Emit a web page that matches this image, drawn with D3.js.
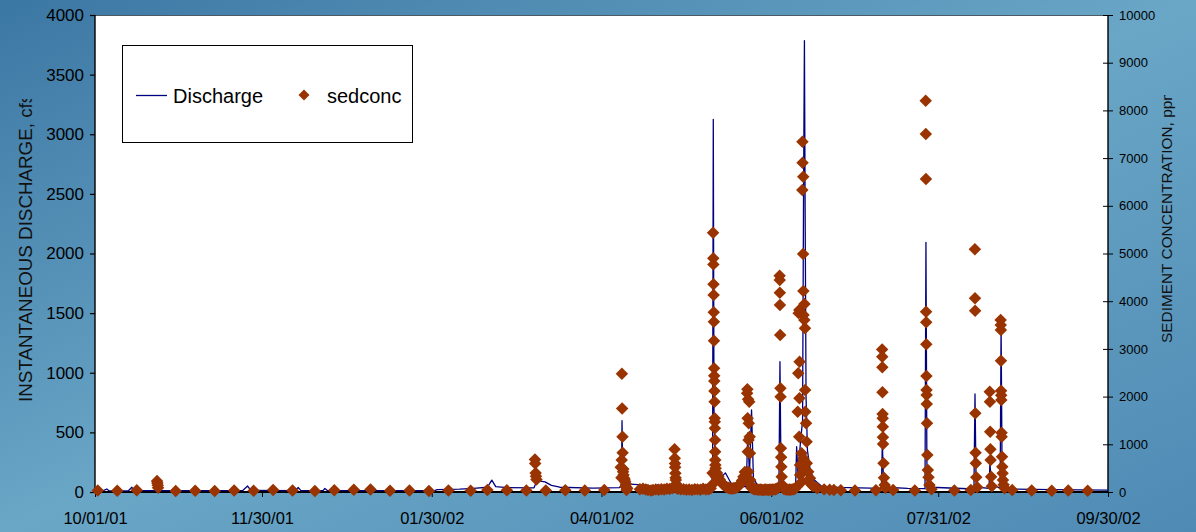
<!DOCTYPE html>
<html>
<head>
<meta charset="utf-8">
<script src="https://cdn.jsdelivr.net/npm/d3@7/dist/d3.min.js"></script>
<style>
  html, body { margin: 0; padding: 0; background: #5f9cc2; }
  svg { display: block; font-family: "Liberation Sans", Arial, sans-serif; }
</style>
</head>
<body>
<svg id="chart" width="1196" height="532"></svg>
<script>
// ---- Water year 2002: instantaneous discharge (cfs) and suspended-sediment samples (ppm)

const dateTicks = ["2001-10-01", "2001-11-30", "2002-01-30", "2002-04-01", "2002-06-01", "2002-07-31", "2002-09-30"];
const dateTickLabels = ["10/01/01", "11/30/01", "01/30/02", "04/01/02", "06/01/02", "07/31/02", "09/30/02"];
const dischargeTicks = [0, 500, 1000, 1500, 2000, 2500, 3000, 3500, 4000];
const sedTicks = [0, 1000, 2000, 3000, 4000, 5000, 6000, 7000, 8000, 9000, 10000];

// Discharge hydrograph, [time, cfs]
const discharge = [
  ["2001-10-01 00:00", 10], ["2001-10-04 00:00", 11], ["2001-10-05 06:00", 25], ["2001-10-06 00:00", 11],
  ["2001-10-13 00:00", 10], ["2001-10-14 06:00", 40], ["2001-10-15 00:00", 12],
  ["2001-11-23 00:00", 11], ["2001-11-24 20:00", 50], ["2001-11-26 00:00", 13],
  ["2001-12-12 00:00", 11], ["2001-12-13 00:00", 38], ["2001-12-14 00:00", 12],
  ["2001-12-22 00:00", 11], ["2001-12-22 14:00", 30], ["2001-12-23 12:00", 12],
  ["2002-01-31 00:00", 12], ["2002-02-01 00:00", 20], ["2002-02-09 00:00", 24], ["2002-02-14 00:00", 30],
  ["2002-02-19 00:00", 40], ["2002-02-20 14:00", 100], ["2002-02-22 00:00", 45], ["2002-02-26 00:00", 36],
  ["2002-03-07 18:00", 35], ["2002-03-08 19:00", 95], ["2002-03-11 17:00", 85], ["2002-03-14 00:00", 55],
  ["2002-03-17 00:00", 40], ["2002-03-29 00:00", 33], ["2002-04-07 12:00", 36], ["2002-04-08 04:00", 60],
  ["2002-04-08 09:00", 598], ["2002-04-08 14:00", 200], ["2002-04-09 00:00", 100], ["2002-04-10 00:00", 68],
  ["2002-04-14 00:00", 62], ["2002-04-16 00:00", 50], ["2002-04-20 18:00", 52], ["2002-04-21 10:00", 62],
  ["2002-04-22 00:00", 46], ["2002-04-30 00:00", 48], ["2002-05-10 12:00", 45], ["2002-05-10 22:00", 150],
  ["2002-05-11 04:00", 3125], ["2002-05-11 10:00", 700], ["2002-05-11 20:00", 220], ["2002-05-12 22:00", 128],
  ["2002-05-14 12:00", 135], ["2002-05-15 12:00", 160], ["2002-05-16 06:00", 130], ["2002-05-17 12:00", 75],
  ["2002-05-20 18:00", 45], ["2002-05-23 00:00", 45], ["2002-05-23 14:00", 495], ["2002-05-24 04:00", 140],
  ["2002-05-24 22:00", 688], ["2002-05-25 14:00", 120], ["2002-05-26 22:00", 60], ["2002-05-29 00:00", 45],
  ["2002-06-03 18:00", 45], ["2002-06-04 03:00", 1093], ["2002-06-04 12:00", 160], ["2002-06-05 00:00", 70],
  ["2002-06-06 12:00", 50], ["2002-06-09 18:00", 50], ["2002-06-10 03:00", 380], ["2002-06-10 14:00", 150],
  ["2002-06-11 12:00", 420], ["2002-06-12 06:00", 600], ["2002-06-12 14:00", 2400], ["2002-06-12 22:00", 3785],
  ["2002-06-13 04:00", 2390], ["2002-06-13 12:00", 800], ["2002-06-14 00:00", 350], ["2002-06-15 00:00", 180],
  ["2002-06-16 12:00", 100], ["2002-06-19 00:00", 50], ["2002-06-25 00:00", 38], ["2002-07-10 14:00", 30],
  ["2002-07-10 22:00", 420], ["2002-07-11 08:00", 80], ["2002-07-12 00:00", 40], ["2002-07-20 00:00", 30],
  ["2002-07-26 06:00", 28], ["2002-07-26 14:00", 2094], ["2002-07-26 22:00", 250], ["2002-07-27 08:00", 80],
  ["2002-07-28 12:00", 40], ["2002-08-12 20:00", 25], ["2002-08-13 05:00", 822], ["2002-08-13 14:00", 110],
  ["2002-08-14 12:00", 40], ["2002-08-18 06:00", 30], ["2002-08-18 14:00", 250], ["2002-08-19 00:00", 60],
  ["2002-08-22 06:00", 35], ["2002-08-22 14:00", 1400], ["2002-08-22 22:00", 250], ["2002-08-23 08:00", 100],
  ["2002-08-24 12:00", 45], ["2002-08-27 00:00", 25], ["2002-09-10 00:00", 20], ["2002-09-30 00:00", 15]
];

// Sediment samples, [time, ppm]
const sedFallWinter = [
  ["2001-10-02 00:00", 30], ["2001-10-09 00:00", 25], ["2001-10-16 00:00", 35],
  ["2001-10-23 07:00", 230], ["2001-10-23 10:00", 190], ["2001-10-23 13:00", 140], ["2001-10-23 16:00", 90],
  ["2001-10-30 00:00", 20], ["2001-11-06 00:00", 25], ["2001-11-13 00:00", 20], ["2001-11-20 00:00", 30],
  ["2001-11-27 00:00", 25], ["2001-12-04 00:00", 40], ["2001-12-11 00:00", 30], ["2001-12-19 00:00", 20],
  ["2001-12-26 00:00", 35], ["2002-01-02 00:00", 45], ["2002-01-08 00:00", 50], ["2002-01-15 00:00", 25],
  ["2002-01-22 00:00", 30], ["2002-01-29 00:00", 20], ["2002-02-05 00:00", 30], ["2002-02-13 00:00", 25],
  ["2002-02-19 00:00", 40], ["2002-02-26 00:00", 35], ["2002-03-05 00:00", 30],
  ["2002-03-08 02:00", 680], ["2002-03-08 04:00", 600], ["2002-03-08 08:00", 400], ["2002-03-08 11:00", 330],
  ["2002-03-08 15:00", 260], ["2002-03-12 00:00", 30], ["2002-03-19 00:00", 35], ["2002-03-26 00:00", 30],
  ["2002-04-02 00:00", 40]
];

const sedApril = [
  ["2002-04-07 22:00", 517], ["2002-04-08 04:00", 300], ["2002-04-08 06:00", 670], ["2002-04-08 08:00", 2480],
  ["2002-04-08 10:00", 1750], ["2002-04-08 13:00", 1160], ["2002-04-08 14:00", 824], ["2002-04-08 18:00", 426],
  ["2002-04-08 20:00", 480], ["2002-04-08 22:00", 356], ["2002-04-09 04:00", 287], ["2002-04-09 08:00", 250],
  ["2002-04-09 12:00", 216], ["2002-04-09 16:00", 111], ["2002-04-09 20:00", 160], ["2002-04-10 00:00", 42],
  ["2002-04-10 06:00", 80], ["2002-04-14 19:00", 60], ["2002-04-15 22:00", 70], ["2002-04-16 22:00", 50],
  ["2002-04-17 17:00", 40], ["2002-04-18 19:00", 30], ["2002-04-19 12:00", 40], ["2002-04-20 12:00", 55],
  ["2002-04-21 12:00", 45], ["2002-04-22 12:00", 60], ["2002-04-23 12:00", 50], ["2002-04-24 12:00", 70],
  ["2002-04-25 12:00", 65], ["2002-04-26 12:00", 80],
  ["2002-04-27 06:00", 895], ["2002-04-27 08:00", 706], ["2002-04-27 10:00", 600], ["2002-04-27 11:00", 517],
  ["2002-04-27 13:00", 391], ["2002-04-27 15:00", 300], ["2002-04-27 17:00", 251], ["2002-04-27 20:00", 168],
  ["2002-04-28 00:00", 78], ["2002-04-28 12:00", 70], ["2002-04-29 12:00", 55], ["2002-04-30 12:00", 60],
  ["2002-05-01 12:00", 45], ["2002-05-02 12:00", 50], ["2002-05-03 12:00", 40], ["2002-05-04 12:00", 60],
  ["2002-05-05 12:00", 55], ["2002-05-06 12:00", 45], ["2002-05-07 12:00", 70], ["2002-05-08 12:00", 50],
  ["2002-05-09 12:00", 60], ["2002-05-10 06:00", 80]
];

const sedMay = [
  ["2002-05-10 18:00", 150], ["2002-05-10 22:00", 400],
  ["2002-05-11 02:00", 5435], ["2002-05-11 04:00", 4898], ["2002-05-11 05:00", 4772], ["2002-05-11 06:00", 4353],
  ["2002-05-11 07:00", 4129], ["2002-05-11 08:00", 3766], ["2002-05-11 09:00", 3570], ["2002-05-11 10:00", 3172],
  ["2002-05-11 11:00", 2593], ["2002-05-11 12:00", 2438], ["2002-05-11 13:00", 2327], ["2002-05-11 14:00", 2117],
  ["2002-05-11 15:00", 1893], ["2002-05-11 16:00", 1545], ["2002-05-11 17:00", 1474], ["2002-05-11 18:00", 1335],
  ["2002-05-11 19:00", 1090], ["2002-05-11 20:00", 845], ["2002-05-11 21:00", 671], ["2002-05-11 22:00", 566],
  ["2002-05-12 00:00", 500], ["2002-05-12 03:00", 321], ["2002-05-12 12:00", 400], ["2002-05-13 00:00", 330],
  ["2002-05-13 12:00", 260], ["2002-05-14 00:00", 210], ["2002-05-14 12:00", 170], ["2002-05-15 00:00", 140],
  ["2002-05-15 12:00", 115], ["2002-05-16 00:00", 100], ["2002-05-16 12:00", 90], ["2002-05-17 00:00", 80],
  ["2002-05-17 12:00", 75], ["2002-05-18 00:00", 75], ["2002-05-18 12:00", 80], ["2002-05-19 00:00", 85],
  ["2002-05-19 12:00", 95], ["2002-05-20 00:00", 110], ["2002-05-20 12:00", 140], ["2002-05-21 00:00", 180],
  ["2002-05-21 12:00", 240], ["2002-05-22 00:00", 320], ["2002-05-22 12:00", 420],
  ["2002-05-23 08:00", 2069], ["2002-05-23 10:00", 2153], ["2002-05-23 12:00", 1545], ["2002-05-23 14:00", 845],
  ["2002-05-23 16:00", 1943], ["2002-05-23 18:00", 426], ["2002-05-23 20:00", 1090], ["2002-05-23 22:00", 1440],
  ["2002-05-24 02:00", 1893], ["2002-05-24 06:00", 1160], ["2002-05-24 08:00", 810], ["2002-05-24 10:00", 251],
  ["2002-05-24 14:00", 150], ["2002-05-24 20:00", 90],
  ["2002-05-25 12:00", 70], ["2002-05-26 00:00", 60], ["2002-05-26 12:00", 55], ["2002-05-27 00:00", 50],
  ["2002-05-27 12:00", 45], ["2002-05-28 00:00", 50], ["2002-05-28 12:00", 45], ["2002-05-29 00:00", 40],
  ["2002-05-29 12:00", 45], ["2002-05-30 00:00", 50], ["2002-05-30 12:00", 45], ["2002-05-31 00:00", 40],
  ["2002-05-31 12:00", 50], ["2002-06-01 00:00", 45], ["2002-06-01 12:00", 55], ["2002-06-02 00:00", 50],
  ["2002-06-02 12:00", 60], ["2002-06-03 00:00", 70], ["2002-06-03 12:00", 90]
];

const sedJune = [
  ["2002-06-04 00:00", 4534], ["2002-06-04 01:00", 4444], ["2002-06-04 02:00", 4178], ["2002-06-04 03:00", 3920],
  ["2002-06-04 05:00", 3291], ["2002-06-04 07:00", 2174], ["2002-06-04 08:00", 1998], ["2002-06-04 11:00", 916],
  ["2002-06-04 13:00", 727], ["2002-06-04 15:00", 530], ["2002-06-04 18:00", 321], ["2002-06-04 22:00", 150],
  ["2002-06-05 00:00", 100], ["2002-06-05 12:00", 70], ["2002-06-06 00:00", 55], ["2002-06-06 12:00", 50],
  ["2002-06-07 00:00", 45], ["2002-06-07 12:00", 50], ["2002-06-08 00:00", 45], ["2002-06-08 12:00", 55],
  ["2002-06-09 00:00", 60], ["2002-06-09 12:00", 70], ["2002-06-10 00:00", 100],
  ["2002-06-10 12:00", 1683], ["2002-06-10 17:00", 2488], ["2002-06-10 20:00", 3750], ["2002-06-11 01:00", 1159],
  ["2002-06-11 02:00", 3815], ["2002-06-11 03:00", 1964], ["2002-06-11 04:00", 2731], ["2002-06-11 08:00", 566],
  ["2002-06-11 09:00", 356], ["2002-06-11 22:00", 811], ["2002-06-11 23:00", 216], ["2002-06-12 04:00", 6330],
  ["2002-06-12 05:00", 7342], ["2002-06-12 06:00", 6902], ["2002-06-12 11:00", 4988], ["2002-06-12 12:00", 6609],
  ["2002-06-12 12:30", 706], ["2002-06-12 13:00", 4213], ["2002-06-12 14:00", 3710], ["2002-06-12 15:00", 461],
  ["2002-06-12 21:00", 3605], ["2002-06-12 22:00", 3940], ["2002-06-13 03:00", 3431], ["2002-06-13 04:00", 2138],
  ["2002-06-13 05:00", 1683], ["2002-06-13 12:00", 1440], ["2002-06-13 17:00", 1054], ["2002-06-13 18:00", 601],
  ["2002-06-14 07:00", 426], ["2002-06-14 22:00", 287], ["2002-06-15 02:00", 182], ["2002-06-15 12:00", 150],
  ["2002-06-16 00:00", 120], ["2002-06-17 12:00", 80], ["2002-06-20 00:00", 55], ["2002-06-22 00:00", 45],
  ["2002-06-23 12:00", 40], ["2002-06-26 00:00", 35], ["2002-07-01 02:00", 30]
];

const sedSummer = [
  ["2002-07-08 14:00", 35],
  ["2002-07-10 20:00", 2990], ["2002-07-10 21:00", 2837], ["2002-07-10 22:00", 2614], ["2002-07-10 23:00", 2090],
  ["2002-07-11 00:00", 1635], ["2002-07-11 01:00", 1545], ["2002-07-11 02:00", 1369], ["2002-07-11 03:00", 1147],
  ["2002-07-11 04:00", 1006], ["2002-07-11 08:00", 601], ["2002-07-11 12:00", 300], ["2002-07-11 18:00", 147],
  ["2002-07-12 00:00", 90], ["2002-07-14 19:00", 40], ["2002-07-22 14:00", 30],
  ["2002-07-26 12:00", 8203], ["2002-07-26 13:00", 7505], ["2002-07-26 14:00", 6562], ["2002-07-26 15:00", 3780],
  ["2002-07-26 16:00", 3557], ["2002-07-26 17:00", 3096], ["2002-07-26 18:00", 2432], ["2002-07-26 19:00", 2138],
  ["2002-07-26 20:00", 2033], ["2002-07-26 21:00", 1845], ["2002-07-26 23:00", 1440], ["2002-07-27 02:00", 776],
  ["2002-07-27 06:00", 461], ["2002-07-27 12:00", 308], ["2002-07-27 20:00", 147], ["2002-07-28 14:00", 60],
  ["2002-08-05 19:00", 30], ["2002-08-11 17:00", 40],
  ["2002-08-13 04:00", 5087], ["2002-08-13 05:00", 4060], ["2002-08-13 06:00", 3800], ["2002-08-13 08:00", 1650],
  ["2002-08-13 10:00", 824], ["2002-08-13 12:00", 601], ["2002-08-13 16:00", 308], ["2002-08-14 00:00", 100],
  ["2002-08-18 12:00", 2103], ["2002-08-18 14:00", 1894], ["2002-08-18 16:00", 1264], ["2002-08-18 18:00", 895],
  ["2002-08-18 20:00", 671], ["2002-08-19 00:00", 321], ["2002-08-19 06:00", 120],
  ["2002-08-22 10:00", 3605], ["2002-08-22 11:00", 3500], ["2002-08-22 12:00", 3396], ["2002-08-22 13:00", 2752],
  ["2002-08-22 14:00", 2124], ["2002-08-22 15:00", 2030], ["2002-08-22 16:00", 1928], ["2002-08-22 18:00", 1243],
  ["2002-08-22 19:00", 1159], ["2002-08-22 22:00", 740], ["2002-08-23 00:00", 530], ["2002-08-23 03:00", 391],
  ["2002-08-23 06:00", 251], ["2002-08-23 12:00", 150], ["2002-08-23 20:00", 80],
  ["2002-08-26 14:00", 40], ["2002-09-02 14:00", 30], ["2002-09-09 19:00", 25], ["2002-09-15 17:00", 30],
  ["2002-09-22 17:00", 25]
];

// ---- Layout
const svg = d3.select("#chart");
const W = 1196, H = 532;
const plot = { left: 95, right: 1108, top: 15, bottom: 492 };
const parseTime = d3.timeParse("%Y-%m-%d %H:%M");
const parseDay = d3.timeParse("%Y-%m-%d");

const x = d3.scaleTime()
  .domain([parseDay(dateTicks[0]), parseDay(dateTicks[dateTicks.length - 1])])
  .range([plot.left, plot.right]);
const yQ = d3.scaleLinear().domain([0, 4000]).range([plot.bottom, plot.top]);
const yS = d3.scaleLinear().domain([0, 10000]).range([plot.bottom, plot.top]);

// Background
const defs = svg.append("defs");
const bg = defs.append("linearGradient").attr("id", "bgGrad")
  .attr("x1", "0").attr("y1", "0").attr("x2", "1").attr("y2", "1");
bg.append("stop").attr("offset", "0").attr("stop-color", "#3b77a3");
bg.append("stop").attr("offset", "0.5").attr("stop-color", "#6aa6c6");
bg.append("stop").attr("offset", "1").attr("stop-color", "#4e8ab4");
svg.append("rect").attr("width", W).attr("height", H).attr("fill", "url(#bgGrad)");

// Plot area
svg.append("rect")
  .attr("x", plot.left).attr("y", plot.top)
  .attr("width", plot.right - plot.left).attr("height", plot.bottom - plot.top)
  .attr("fill", "#ffffff");
svg.append("line")
  .attr("x1", plot.left).attr("x2", plot.right)
  .attr("y1", plot.top + 0.5).attr("y2", plot.top + 0.5)
  .attr("stroke", "#4d5a66").attr("stroke-width", 1);

// Left axis
const gLeft = svg.append("g").attr("transform", `translate(${plot.left},0)`)
  .call(d3.axisLeft(yQ).tickValues(dischargeTicks).tickSize(5).tickPadding(6).tickFormat(d3.format("d")));
gLeft.select(".domain").remove();
gLeft.selectAll(".tick line").attr("stroke", "#000").attr("stroke-width", 1.2);
gLeft.selectAll(".tick text").attr("font-size", 17).attr("fill", "#000")
  .attr("font-family", "Liberation Sans, Arial, sans-serif");
svg.append("line").attr("x1", plot.left).attr("x2", plot.left)
  .attr("y1", plot.top).attr("y2", plot.bottom).attr("stroke", "#000").attr("stroke-width", 1.4);

// Right axis
const gRight = svg.append("g").attr("transform", `translate(${plot.right},0)`)
  .call(d3.axisRight(yS).tickValues(sedTicks).tickSize(5).tickPadding(6).tickFormat(d3.format("d")));
gRight.select(".domain").remove();
gRight.selectAll(".tick line").attr("x1", -5).attr("x2", 5).attr("stroke", "#000").attr("stroke-width", 1);
gRight.selectAll(".tick text").attr("font-size", 13).attr("fill", "#000")
  .attr("font-family", "Liberation Sans, Arial, sans-serif");
svg.append("line").attr("x1", plot.right).attr("x2", plot.right)
  .attr("y1", plot.top).attr("y2", plot.bottom).attr("stroke", "#000").attr("stroke-width", 1.4);

// Bottom axis
const tickDates = dateTicks.map(parseDay);
const gBottom = svg.append("g").attr("transform", `translate(0,${plot.bottom})`)
  .call(d3.axisBottom(x).tickValues(tickDates).tickSize(5).tickPadding(15)
    .tickFormat((d, i) => dateTickLabels[i]));
gBottom.select(".domain").remove();
gBottom.selectAll(".tick line").attr("stroke", "#000").attr("stroke-width", 1);
gBottom.selectAll(".tick text").attr("font-size", 16.5).attr("fill", "#000")
  .attr("font-family", "Liberation Sans, Arial, sans-serif");
svg.append("line").attr("x1", plot.left).attr("x2", plot.right)
  .attr("y1", plot.bottom).attr("y2", plot.bottom).attr("stroke", "#000").attr("stroke-width", 2.2);

// Axis titles (units run past the frame edge and are cut off)
defs.append("clipPath").attr("id", "clipLeftTitle").append("rect")
  .attr("x", 0).attr("y", 99).attr("width", 60).attr("height", 330);
defs.append("clipPath").attr("id", "clipRightTitle").append("rect")
  .attr("x", 1140).attr("y", 95).attr("width", 56).attr("height", 300);

svg.append("g").attr("clip-path", "url(#clipLeftTitle)")
  .append("text")
  .attr("transform", "translate(32,402) rotate(-90)")
  .attr("font-size", 18.8).attr("fill", "#111")
  .text("INSTANTANEOUS DISCHARGE, cfs");

svg.append("g").attr("clip-path", "url(#clipRightTitle)")
  .append("text")
  .attr("transform", "translate(1172,343) rotate(-90)")
  .attr("font-size", 15.4).attr("fill", "#111")
  .text("SEDIMENT CONCENTRATION, ppm");

// Discharge line
const qData = discharge.map(([t, v]) => ({ t: parseTime(t), v }));
svg.append("path")
  .datum(qData)
  .attr("fill", "none")
  .attr("stroke", "#000080")
  .attr("stroke-width", 1.3)
  .attr("stroke-linejoin", "round")
  .attr("d", d3.line().x(d => x(d.t)).y(d => yQ(d.v)));

// Sediment samples
const diamond = {
  draw(ctx, size) {
    const r = Math.sqrt(size / 2);
    ctx.moveTo(0, -r); ctx.lineTo(r, 0); ctx.lineTo(0, r); ctx.lineTo(-r, 0); ctx.closePath();
  }
};
const sedData = [sedFallWinter, sedApril, sedMay, sedJune, sedSummer]
  .flat().map(([t, v]) => ({ t: parseTime(t), v }));
const sym = d3.symbol().type(diamond).size(78);
svg.append("g").selectAll("path")
  .data(sedData)
  .join("path")
  .attr("transform", d => `translate(${x(d.t)},${yS(d.v)})`)
  .attr("d", sym)
  .attr("fill", "#993300");

// Legend
const lg = svg.append("g");
lg.append("rect").attr("x", 122.5).attr("y", 45.5).attr("width", 290).attr("height", 97)
  .attr("fill", "#fff").attr("stroke", "#000").attr("stroke-width", 1);
lg.append("line").attr("x1", 136).attr("x2", 167).attr("y1", 95.5).attr("y2", 95.5)
  .attr("stroke", "#000080").attr("stroke-width", 1.3);
lg.append("text").attr("x", 173).attr("y", 102.5).attr("font-size", 20).attr("fill", "#000").text("Discharge");
lg.append("path").attr("transform", "translate(304,95)").attr("d", d3.symbol().type(diamond).size(60)()).attr("fill", "#993300");
lg.append("text").attr("x", 327).attr("y", 102.5).attr("font-size", 20).attr("fill", "#000").text("sedconc");
</script>
</body>
</html>
